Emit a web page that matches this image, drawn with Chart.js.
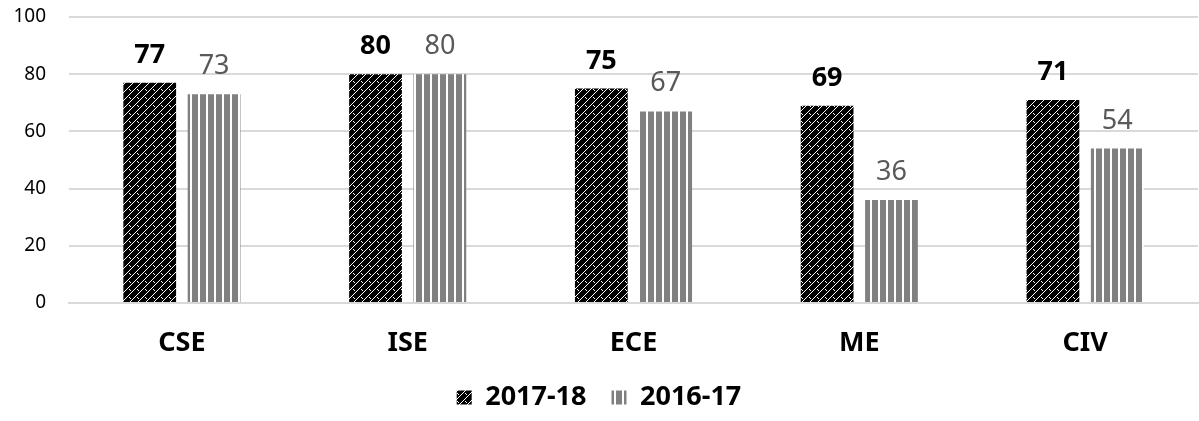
<!DOCTYPE html>
<html>
<head>
<meta charset="utf-8">
<script src="https://cdn.jsdelivr.net/npm/chart.js@4/dist/chart.umd.min.js"></script>
<style>
  html, body { margin: 0; padding: 0; background: #fff; }
  #wrap { width: 1199px; height: 421px; }
</style>
</head>
<body>
<div id="wrap"><canvas id="chart"></canvas></div>
<script>
// Values
const categories = ['CSE', 'ISE', 'ECE', 'ME', 'CIV'];
const seriesNames = ['2017-18', '2016-17'];
const values1718 = [77, 80, 75, 69, 71];
const values1617 = [73, 80, 67, 36, 54];
const yTicks = [0, 20, 40, 60, 80, 100];

const FONT = 'Noto Sans';

// Black tile with white diagonal "brick" lines
function brickPattern() {
    const c = document.createElement('canvas');
    c.width = 8; c.height = 8;
    const g = c.getContext('2d');
    g.fillStyle = '#000';
    g.fillRect(0, 0, 8, 8);
    g.fillStyle = '#fff';
    for (let i = 0; i < 8; i++) g.fillRect(i, 7 - i, 1, 1);
    // short cross piece
    g.fillRect(1, 1, 1, 1);
    g.fillRect(2, 2, 1, 1);
    return g.createPattern(c, 'repeat');
}

// Gray vertical stripes
function stripePattern() {
    const c = document.createElement('canvas');
    c.width = 8; c.height = 8;
    const g = c.getContext('2d');
    g.fillStyle = '#fff';
    g.fillRect(0, 0, 8, 8);
    g.fillStyle = '#808080';
    g.fillRect(0, 0, 6, 8);
    return g.createPattern(c, 'repeat');
}

// Value labels above the bars
const valueLabels = {
    id: 'valueLabels',
    afterDatasetsDraw(chart) {
        const ctx = chart.ctx;
        ctx.save();
        ctx.textAlign = 'center';
        ctx.textBaseline = 'alphabetic';
        chart.data.datasets.forEach((ds, i) => {
            const meta = chart.getDatasetMeta(i);
            ctx.font = (i === 0 ? 'bold ' : '') + '27px "' + FONT + '"';
            ctx.fillStyle = i === 0 ? '#000' : '#595959';
            meta.data.forEach((el, j) => {
                ctx.fillText(ds.data[j], el.x, el.y - 20);
            });
        });
        ctx.restore();
    }
};

const chart = new Chart(document.getElementById('chart'), {
    type: 'bar',
    data: {
        labels: categories,
        datasets: [
            { label: seriesNames[0], data: values1718, backgroundColor: brickPattern(), borderWidth: 0 },
            { label: seriesNames[1], data: values1617, backgroundColor: stripePattern(), borderWidth: 0 }
        ]
    },
    options: {
        responsive: true,
        maintainAspectRatio: false,
        animation: false,
        layout: { padding: { top: 17, right: 1, left: 0, bottom: 0 } },
        datasets: {
            bar: { categoryPercentage: 0.57, barPercentage: 0.82 }
        },
        scales: {
            x: {
                grid: { display: false },
                border: { color: '#d9d9d9', width: 2 },
                afterFit: (scale) => { scale.height = 56; },
                ticks: {
                    color: '#000',
                    padding: 16,
                    font: { family: FONT, size: 27, weight: 'bold' }
                }
            },
            y: {
                min: 0,
                max: 100,
                afterBuildTicks: (scale) => { scale.ticks = yTicks.map(v => ({ value: v })); },
                afterFit: (scale) => { scale.width = 69; },
                grid: { color: '#d9d9d9', lineWidth: 2, tickLength: 20, tickColor: 'rgba(0,0,0,0)' },
                border: { display: false },
                ticks: {
                    color: '#000',
                    padding: 3,
                    font: { family: FONT, size: 19 }
                }
            }
        },
        plugins: {
            tooltip: { enabled: false },
            legend: {
                position: 'bottom',
                labels: {
                    color: '#000',
                    boxWidth: 15,
                    boxHeight: 14,
                    padding: 25,
                    font: { family: FONT, size: 27, weight: 'bold' }
                }
            }
        }
    },
    plugins: [valueLabels]
});
</script>
</body>
</html>
